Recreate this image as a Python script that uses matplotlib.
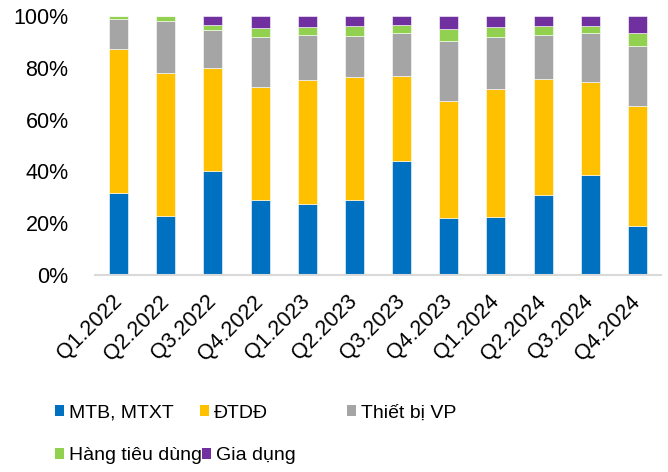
import matplotlib.pyplot as plt
import numpy as np
from matplotlib.patches import Patch

# Cơ cấu doanh thu theo nhóm hàng (%)
quarters = ['Q1.2022', 'Q2.2022', 'Q3.2022', 'Q4.2022', 'Q1.2023', 'Q2.2023',
            'Q3.2023', 'Q4.2023', 'Q1.2024', 'Q2.2024', 'Q3.2024', 'Q4.2024']
mtb = [31.8, 22.8, 40.2, 28.8, 27.4, 28.8, 44.0, 21.9, 22.5, 30.9, 38.6, 19.0]
dtdd = [55.5, 55.1, 39.6, 43.7, 48.0, 47.8, 32.8, 45.4, 49.2, 44.7, 36.0, 46.1]
tbvp = [11.5, 20.0, 14.9, 19.5, 17.4, 15.8, 16.8, 23.2, 20.2, 16.9, 18.7, 23.4]
htd = [1.2, 2.1, 1.7, 3.4, 3.0, 3.8, 3.1, 4.4, 3.7, 3.5, 2.9, 5.1]
giadung = [0.0, 0.0, 3.6, 4.6, 4.2, 3.8, 3.3, 5.1, 4.4, 4.0, 3.8, 6.4]

series = [
    ('MTB, MTXT', mtb, '#0070C0'),
    ('ĐTDĐ', dtdd, '#FFC000'),
    ('Thiết bị VP', tbvp, '#A5A5A5'),
    ('Hàng tiêu dùng', htd, '#92D050'),
    ('Gia dụng', giadung, '#7030A0'),
]

plt.rcParams['font.family'] = ['Liberation Sans', 'DejaVu Sans']

fig = plt.figure(figsize=(6.68, 4.72), dpi=100)
ax = fig.add_axes([95 / 668, 1 - 275 / 472, 566 / 668, 259 / 472])

x = np.arange(len(quarters))
bottom = np.zeros(len(quarters))
for name, vals, color in series:
    vals = np.array(vals)
    ax.bar(x, vals, 0.4, bottom=bottom, color=color,
           edgecolor='white', linewidth=0.4)
    bottom += vals

ax.set_xlim(-0.5, len(quarters) - 0.5)
ax.set_ylim(0, 100)
ax.set_yticks(range(0, 101, 20))
ax.set_yticklabels([f'{v}%' for v in range(0, 101, 20)], fontsize=15.5)
ax.set_xticks(x)
ax.set_xticklabels(quarters, fontsize=15.5, rotation=45, ha='right',
                   va='center', rotation_mode='anchor')
ax.tick_params(axis='y', length=0, pad=19)
ax.tick_params(axis='x', length=0, pad=17)

for s in ['top', 'right', 'left']:
    ax.spines[s].set_visible(False)
ax.spines['bottom'].set_color('#D9D9D9')
ax.spines['bottom'].set_linewidth(1.5)

# chú thích: lưới 3 cột, 2 hàng
legend_pos = [(55, 413), (200, 413), (347, 413), (55, 456), (202, 456)]
for (name, vals, color), (px, py) in zip(series, legend_pos):
    fig.legend(handles=[Patch(facecolor=color)], labels=[name],
               loc='center left', bbox_to_anchor=(px / 668, 1 - py / 472),
               frameon=False, fontsize=14, borderpad=0, borderaxespad=0,
               handlelength=0.45, handleheight=0.45, handletextpad=0.25)

fig.savefig('out.png', dpi=100)
